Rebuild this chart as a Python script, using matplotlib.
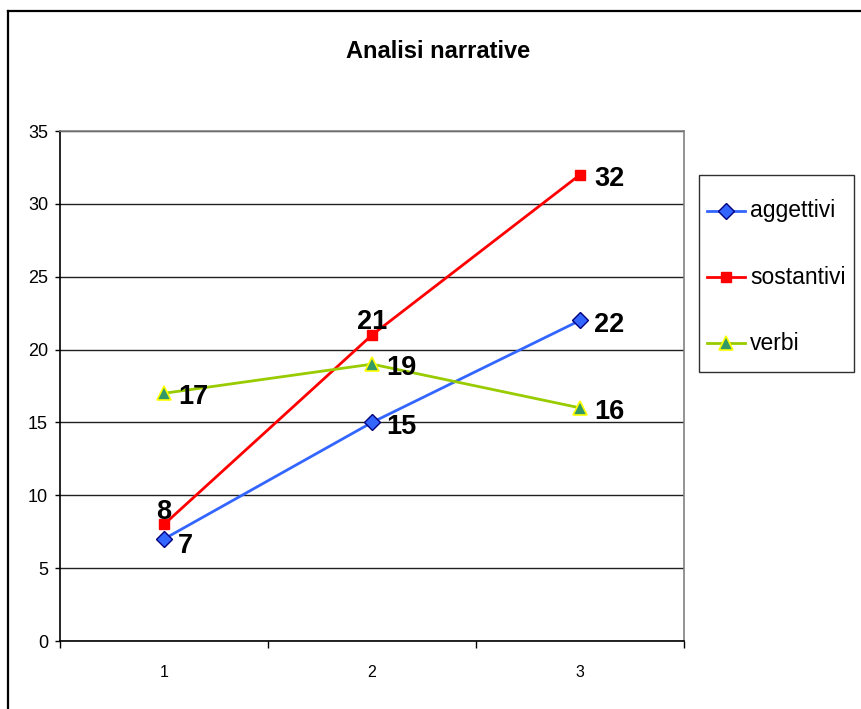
import matplotlib
matplotlib.use("Agg")
import matplotlib.pyplot as plt
from matplotlib.lines import Line2D
from matplotlib.patches import Rectangle

plt.rcParams['font.family'] = ['Liberation Sans Narrow', 'Liberation Sans', 'DejaVu Sans']

categories = [1, 2, 3]
aggettivi = [7, 15, 22]
sostantivi = [8, 21, 32]
verbi = [17, 19, 16]
yticks = [0, 5, 10, 15, 20, 25, 30, 35]

W, H = 862, 709
fig = plt.figure(figsize=(W / 100, H / 100), dpi=100)
ax = fig.add_axes([60 / W, 1 - 641 / H, 624 / W, 510 / H])


def fx(px):
    return px / W


def fy(py):
    return 1 - py / H


series = [
    ("aggettivi", aggettivi, dict(color="#3366FF", marker="D", markersize=8,
                                  markerfacecolor="#3366FF", markeredgecolor="#000080",
                                  markeredgewidth=1.0)),
    ("sostantivi", sostantivi, dict(color="#FF0000", marker="s", markersize=7.5,
                                    markerfacecolor="#FF0000", markeredgecolor="#FF0000")),
    ("verbi", verbi, dict(color="#99CC00", marker="^", markersize=10,
                          markerfacecolor="#339966", markeredgecolor="#FFFF00",
                          markeredgewidth=1.2)),
]

for name, vals, style in series:
    ax.plot(categories, vals, linewidth=2.0, label=name, zorder=3, **style)

# value labels
label_kw = dict(fontsize=19.5, fontweight="bold", color="black", zorder=5)
for x, v in zip(categories, aggettivi):
    dy = -5 if v == min(aggettivi) else -3
    ax.annotate(str(v), (x, v), xytext=(10, dy), textcoords="offset points",
                ha="left", va="center", **label_kw)
for x, v in zip(categories, verbi):
    ax.annotate(str(v), (x, v), xytext=(10, -3), textcoords="offset points",
                ha="left", va="center", **label_kw)
for i, (x, v) in enumerate(zip(categories, sostantivi)):
    if i < 2:
        ax.annotate(str(v), (x, v), xytext=(0, 4), textcoords="offset points",
                    ha="center", va="baseline", **label_kw)
    else:
        ax.annotate(str(v), (x, v), xytext=(10, -3), textcoords="offset points",
                    ha="left", va="center", **label_kw)

ax.set_xlim(0.5, 3.5)
ax.set_ylim(0, 35)
ax.set_yticks(yticks)
ax.set_yticklabels([str(t) for t in yticks], fontsize=13)
ax.set_xticks(categories)
ax.set_xticklabels([str(c) for c in categories], fontsize=11.5)
ax.set_xticks([0.5, 1.5, 2.5, 3.5], minor=True)
ax.tick_params(axis="x", which="major", length=0, pad=17)
ax.tick_params(axis="x", which="minor", length=5, width=1, direction="out", color="black")
ax.tick_params(axis="y", which="major", length=3.6, width=1, direction="out", pad=5)

ax.yaxis.grid(True, color="#202020", linewidth=1)
ax.set_axisbelow(True)

for side in ("left", "bottom"):
    ax.spines[side].set_color("black")
    ax.spines[side].set_linewidth(1.2)
for side in ("right", "top"):
    ax.spines[side].set_color("#808080")
    ax.spines[side].set_linewidth(1.2)

fig.text(fx(438), fy(52), "Analisi narrative", ha="center", va="center",
         fontsize=17, fontweight="bold")

# legend box with one row per series
fig.add_artist(Rectangle((fx(699), fy(372)), fx(854) - fx(699), fy(175) - fy(372),
                         transform=fig.transFigure, facecolor="white",
                         edgecolor="#303030", linewidth=1.0))
for i, (name, vals, style) in enumerate(series):
    yy = fy(211 + 66 * i)
    fig.add_artist(Line2D([fx(707), fx(745)], [yy, yy], transform=fig.transFigure,
                          color=style["color"], linewidth=2.0))
    mstyle = {k: v for k, v in style.items() if k != "color"}
    fig.add_artist(Line2D([fx(726)], [yy], transform=fig.transFigure,
                          linestyle="none", **mstyle))
    fig.text(fx(750), yy, name, ha="left", va="center", fontsize=16.5)

# outer chart border (left and top edges)
fig.add_artist(Line2D([fx(8), fx(8)], [0, fy(11)], transform=fig.transFigure,
                      color="black", linewidth=1.6))
fig.add_artist(Line2D([fx(8), 1], [fy(11), fy(11)], transform=fig.transFigure,
                      color="black", linewidth=1.6))

fig.savefig("out.png", dpi=100)
